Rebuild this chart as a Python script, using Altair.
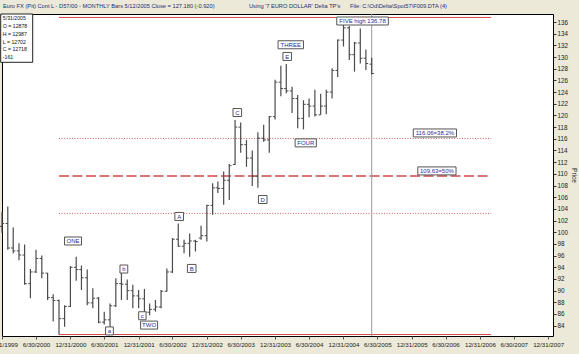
import altair as alt
import pandas as pd

# ---------------- data ----------------
dates = [
    "1999-12-31",
    "2000-01-31", "2000-02-29", "2000-03-31", "2000-04-30", "2000-05-31", "2000-06-30",
    "2000-07-31", "2000-08-31", "2000-09-30", "2000-10-31", "2000-11-30", "2000-12-31",
    "2001-01-31", "2001-02-28", "2001-03-31", "2001-04-30", "2001-05-31", "2001-06-30",
    "2001-07-31", "2001-08-31", "2001-09-30", "2001-10-31", "2001-11-30", "2001-12-31",
    "2002-01-31", "2002-02-28", "2002-03-31", "2002-04-30", "2002-05-31", "2002-06-30",
    "2002-07-31", "2002-08-31", "2002-09-30", "2002-10-31", "2002-11-30", "2002-12-31",
    "2003-01-31", "2003-02-28", "2003-03-31", "2003-04-30", "2003-05-31", "2003-06-30",
    "2003-07-31", "2003-08-31", "2003-09-30", "2003-10-31", "2003-11-30", "2003-12-31",
    "2004-01-31", "2004-02-29", "2004-03-31", "2004-04-30", "2004-05-31", "2004-06-30",
    "2004-07-31", "2004-08-31", "2004-09-30", "2004-10-31", "2004-11-30", "2004-12-31",
    "2005-01-31", "2005-02-28", "2005-03-31", "2005-04-30", "2005-05-31",
]
opens = [
    101.0,
    101.5, 97.3, 96.8, 96.1, 91.2, 93.2,
    95.5, 93.0, 88.8, 88.3, 85.2, 87.3,
    94.0, 93.6, 92.2, 87.9, 88.7, 84.6,
    85.0, 87.4, 91.2, 91.1, 90.0, 89.1,
    88.6, 86.3, 86.8, 87.2, 89.9, 93.2,
    98.8, 97.6, 98.1, 98.5, 99.0, 99.4,
    104.6, 107.6, 107.5, 108.9, 111.6, 118.0,
    115.0, 112.7, 109.6, 116.1, 115.8, 119.8,
    125.7, 124.6, 124.2, 122.9, 119.5, 121.9,
    121.6, 120.1, 121.6, 124.0, 127.7, 132.9,
    135.0, 130.4, 132.4, 129.8, 128.78,
]
highs = [
    103.5,
    104.4, 100.8, 98.1, 97.9, 93.7, 97.0,
    96.0, 93.0, 89.4, 88.5, 87.5, 94.2,
    95.8, 94.3, 93.6, 90.4, 88.9, 86.4,
    87.8, 92.1, 93.0, 91.9, 91.0, 90.1,
    90.3, 87.8, 88.4, 90.1, 93.8, 99.0,
    101.5, 98.7, 99.8, 98.7, 101.1, 104.7,
    108.4, 108.7, 110.4, 111.7, 119.2, 118.8,
    115.8, 114.0, 117.1, 118.4, 119.9, 126.1,
    128.5, 128.8, 124.9, 123.5, 122.6, 122.9,
    124.4, 123.7, 124.4, 128.1, 133.0, 136.78,
    135.3, 132.6, 134.9, 131.3, 129.87,
]
lows = [
    99.9,
    97.0, 96.4, 95.2, 91.0, 88.7, 93.0,
    92.1, 88.4, 84.7, 82.48, 83.8, 87.2,
    91.7, 90.1, 87.5, 87.0, 84.4, 84.2,
    83.8, 87.2, 88.4, 88.4, 87.0, 87.0,
    86.1, 85.8, 86.4, 87.0, 89.8, 93.0,
    97.5, 96.4, 95.8, 96.7, 98.7, 98.4,
    103.0, 106.7, 104.7, 105.5, 111.5, 113.6,
    111.2, 107.9, 107.6, 115.5, 113.6, 119.3,
    123.3, 123.8, 120.4, 117.8, 117.6, 119.7,
    119.8, 120.1, 120.2, 122.9, 126.6, 131.8,
    129.5, 127.5, 128.9, 127.8, 127.02,
]
closes = [
    101.5,
    97.3, 96.8, 96.1, 91.2, 93.2, 95.5,
    93.0, 88.8, 88.3, 85.2, 87.3, 94.0,
    93.6, 92.2, 87.9, 88.7, 84.6, 85.0,
    87.4, 91.2, 91.1, 90.0, 89.1, 88.6,
    86.3, 86.8, 87.2, 89.9, 93.2, 98.8,
    97.6, 98.1, 98.5, 98.4, 99.4, 104.6,
    107.6, 107.5, 108.9, 111.4, 118.0, 115.0,
    112.7, 109.6, 116.1, 115.8, 119.8, 125.7,
    124.6, 124.2, 122.9, 119.5, 121.9, 121.6,
    120.1, 121.6, 124.0, 127.7, 132.9, 135.0,
    130.4, 132.4, 129.8, 128.9, 127.18,
]

fib_solid = [136.78, 82.48]
fib_dotted = [116.06, 103.22]
fib_dashed = [109.63]
fib_start = "2000-10-31"
fib_end = "2007-03-01"
cursor_date = "2005-05-31"

label_texts = ["ONE", "a", "b", "c", "TWO", "A", "B", "C", "D", "THREE", "E", "FOUR",
               "FIVE high 136.78", "116.06=38.2%", "109.63=50%"]
label_dates = ["2001-01-14", "2001-07-28", "2001-10-13", "2002-01-20", "2002-02-25",
               "2002-08-05", "2002-10-11", "2003-06-12", "2003-10-26", "2004-03-24",
               "2004-03-05", "2004-06-12", "2005-04-12", "2006-05-04", "2006-05-15"]
label_prices = [98.5, 83.1, 93.7, 85.7, 84.1, 102.7, 93.8, 120.5, 105.6, 132.1,
                130.1, 115.3, 136.17, 117.0, 110.5]

info_lines = ["5/31/2005", "O = 12878", "H = 12987", "L = 12702", "C = 12718", "-161"]
header_left = "Euro FX (Pit) Cont L - D57/00  - MONTHLY Bars  5/12/2005 Close = 127.180 (-0.920)"
header_mid = "Using '7 EURO DOLLAR' Delta TP's"
header_right = "File: C:\\Od\\Delta\\Spot57\\F009.DTA (4)"

x_tick_dates = ["1999-12-31", "2000-06-30", "2000-12-31", "2001-06-30", "2001-12-31",
                "2002-06-30", "2002-12-31", "2003-06-30", "2003-12-31", "2004-06-30",
                "2004-12-31", "2005-06-30", "2005-12-31", "2006-06-30", "2006-12-31",
                "2007-06-30", "2007-12-31"]
y_ticks = [84, 86, 88, 90, 92, 94, 96, 98, 100, 102, 104, 106, 108, 110, 112, 114, 116,
           118, 120, 122, 124, 126, 128, 130, 132, 134, 136]

# ---------------- helpers ----------------
FONT = "Liberation Sans"
BLUE = "#2a2aa0"
RED = "#d04848"
BAR = "#4a4a4a"


def dt(s):
    y, m, d = (int(v) for v in s.split("-"))
    return alt.DateTime(year=y, month=m, date=d, utc=True)


W, H = 551, 322
xscale = alt.Scale(type="utc", domain=[dt("1999-12-31"), dt("2008-01-26")])
yscale = alt.Scale(domain=[82.23, 137.37], nice=False, zero=False)

xaxis = alt.Axis(values=[dt(s) for s in x_tick_dates],
                 labelExpr="utcFormat(datum.value, '%-m/%-d/%Y')",
                 labelFont=FONT, labelFontSize=6.2, labelColor="#222",
                 labelFlush=False, labelOverlap=False, labelBound=False,
                 tickSize=3, tickColor="#555", labelPadding=2,
                 domain=False, grid=False, title=None)
yaxis = alt.Axis(orient="right", values=y_ticks, labelFont=FONT, labelFontSize=6.3,
                 labelColor="#222", tickSize=3, tickColor="#333", labelPadding=1,
                 domain=False, grid=False, title="Price", titleFont=FONT,
                 titleFontSize=6.5, titleFontWeight="normal", titleColor="#222",
                 titleAngle=90, titleX=20, titleY=H / 2, titleAlign="center",
                 titleBaseline="middle")


def xe(f):
    return alt.X(f"{f}:T", scale=xscale, axis=xaxis)


def ye(f):
    return alt.Y(f"{f}:Q", scale=yscale, axis=yaxis)


ohlc = pd.DataFrame({"date": dates, "open": opens, "high": highs, "low": lows, "close": closes})

hl = alt.Chart(ohlc).mark_rule(color=BAR, strokeWidth=1.2).encode(
    x=xe("date"), y=ye("low"), y2="high:Q")
op = alt.Chart(ohlc).mark_rule(color=BAR, strokeWidth=1, xOffset=-2.2, x2Offset=0).encode(
    x=xe("date"), x2="date:T", y=ye("open"))
cl = alt.Chart(ohlc).mark_rule(color=BAR, strokeWidth=1, xOffset=0, x2Offset=2.2).encode(
    x=xe("date"), x2="date:T", y=ye("close"))


def fib_layer(levels, **kw):
    df = pd.DataFrame({"level": levels, "start": fib_start, "end": fib_end})
    return alt.Chart(df).mark_rule(color=RED, **kw).encode(
        x=xe("start"), x2="end:T", y=ye("level"))


fib1 = fib_layer(fib_solid, strokeWidth=1)
fib2 = fib_layer(fib_dotted, strokeWidth=1, strokeDash=[1, 1.6], opacity=0.9)
fib3 = fib_layer(fib_dashed, strokeWidth=1.6, strokeDash=[10, 3.5])

cursor = alt.Chart(pd.DataFrame({"date": [cursor_date]})).mark_rule(
    color="#9a9a9a", strokeWidth=1).encode(x=xe("date"))

# label boxes
CW = {" ": .278, ".": .278, "=": .584, "%": .889, "I": .278, "i": .222, "g": .556,
      "h": .556, "a": .556, "b": .556, "c": .5}


def text_w(t, fs=6.0):
    w = 0
    for ch in t:
        if ch in CW:
            w += CW[ch]
        elif ch.isdigit():
            w += .556
        elif ch.isupper():
            w += .70
        else:
            w += .52
    return w * fs


paths = []
for t in label_texts:
    hw = text_w(t) / 2 + 2.2
    hh = 4
    paths.append(f"M{-hw:.1f},{-hh}H{hw:.1f}V{hh}H{-hw:.1f}Z")

labels = pd.DataFrame({"text": label_texts, "date": label_dates, "price": label_prices,
                       "path": paths})
boxes = alt.Chart(labels).mark_point(size=4, fill="white", stroke="#555", strokeWidth=1,
                                     opacity=1, fillOpacity=1).encode(
    x=xe("date"), y=ye("price"),
    shape=alt.Shape("path:N", scale=None, legend=None))
ltext = alt.Chart(labels).mark_text(font=FONT, fontSize=6, color=BLUE, align="center",
                                    baseline="middle", dy=0.3).encode(
    x=xe("date"), y=ye("price"), text="text:N")

one = pd.DataFrame({"a": [0]})
# info box (top-left)
info_box = alt.Chart(one).mark_rect(fill="white", stroke="#222", strokeWidth=1).encode(
    x=alt.value(-1.3), x2=alt.value(30.7), y=alt.value(0), y2=alt.value(48.3))
info_text = alt.Chart(one).mark_text(font=FONT, fontSize=5.2, color="#111", align="left",
                                     baseline="middle", text=info_lines,
                                     lineHeight=7.8).encode(
    x=alt.value(0.8), y=alt.value(4.3))

# header
h1 = alt.Chart(one).mark_text(font=FONT, fontSize=5.7, color="#1c2c70", align="left",
                              baseline="middle", text=header_left).encode(
    x=alt.value(1), y=alt.value(-8.5))
h2 = alt.Chart(one).mark_text(font=FONT, fontSize=5.7, color="#1c2c70", align="left",
                              baseline="middle", text=header_mid).encode(
    x=alt.value(247), y=alt.value(-8.5))
h3 = alt.Chart(one).mark_text(font=FONT, fontSize=5.7, color="#1c2c70", align="left",
                              baseline="middle", text=header_right).encode(
    x=alt.value(348), y=alt.value(-8.5))

chart = alt.layer(
    fib2, fib3, fib1, cursor, hl, op, cl, boxes, ltext, info_box, info_text, h1, h2, h3
).properties(
    width=W, height=H,
    padding={"left": 2, "top": 14, "right": 26, "bottom": 18},
    autosize=alt.AutoSizeParams(type="none"),
    background="#ECE9D8",
).configure_view(fill="white", stroke="#000", strokeWidth=1)

chart.save("out.html", embed_options={"renderer": "svg", "actions": False})
